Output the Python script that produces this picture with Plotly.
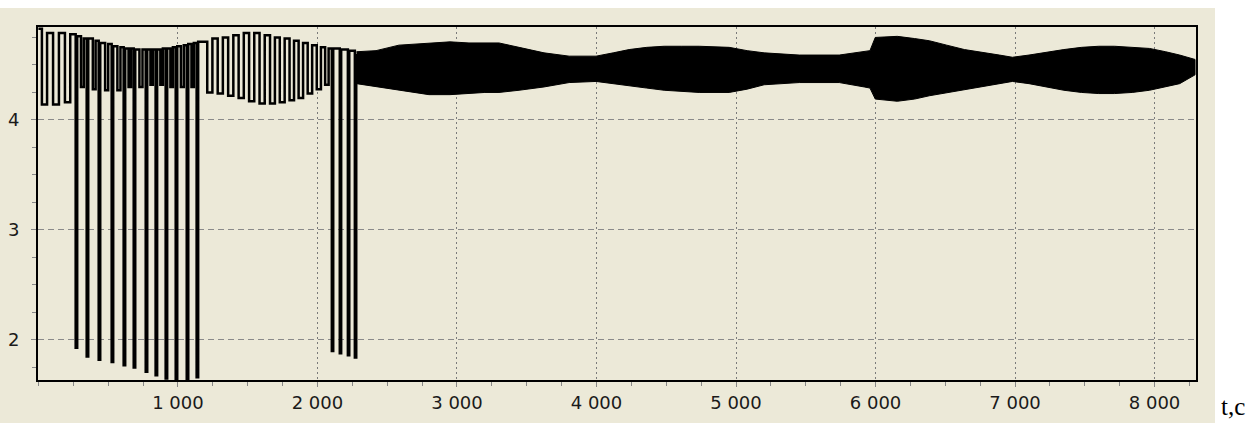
import plotly.graph_objects as go

# ---- data ----
# early oscillation, sampled-and-held values (t in seconds, value)
early_t = [0, 25, 62, 105, 147, 190, 228,
           267, 278, 305, 325, 346, 357, 390, 410, 432, 443, 478, 500,
           525, 536, 566, 588, 611, 622, 646, 664, 683, 694, 724, 746,
           769, 780, 803, 820, 840, 851, 874, 892, 912, 923, 946, 964,
           984, 995, 1021, 1042, 1063, 1074, 1097, 1114, 1134, 1145,
           1210, 1247, 1285, 1322, 1360, 1397, 1435, 1472, 1510, 1547, 1585, 1622,
           1660, 1695, 1730, 1765, 1800, 1832, 1865, 1897, 1930, 1962, 1995, 2025,
           2055, 2080, 2103, 2113, 2160, 2170, 2218, 2228, 2268, 2278]
early_v = [4.83, 4.14, 4.79, 4.14, 4.79, 4.16, 4.78,
           1.93, 4.76, 4.30, 4.74, 1.85, 4.74, 4.28, 4.72, 1.82, 4.70, 4.27, 4.69,
           1.80, 4.67, 4.27, 4.66, 1.77, 4.65, 4.30, 4.65, 1.75, 4.64, 4.30, 4.64,
           1.71, 4.64, 4.32, 4.64, 1.68, 4.64, 4.32, 4.65, 1.65, 4.65, 4.30, 4.66,
           1.62, 4.67, 4.30, 4.68, 1.62, 4.69, 4.30, 4.70, 1.66, 4.71,
           4.25, 4.74, 4.24, 4.75, 4.22, 4.77, 4.20, 4.79, 4.17, 4.79, 4.15, 4.77,
           4.15, 4.75, 4.16, 4.74, 4.18, 4.72, 4.20, 4.70, 4.24, 4.68, 4.28, 4.66,
           4.32, 4.65, 1.90, 4.65, 1.88, 4.64, 1.86, 4.63, 1.84, 4.60]

# dense oscillation: upper and lower envelope
band_t = [2280, 2420, 2584, 2700, 2799, 2950, 3086, 3200, 3301, 3445, 3624, 3804, 3997,
          4120, 4234, 4360, 4485, 4610, 4736, 4951, 5080, 5202, 5453, 5740, 5919, 5960,
          5998, 6156, 6280, 6386, 6510, 6637, 6888, 6981, 7100, 7232, 7350, 7476, 7600,
          7713, 7840, 7964, 8080, 8180, 8290]
band_hi = [4.62, 4.63, 4.68, 4.69, 4.70, 4.71, 4.70, 4.70, 4.70, 4.66, 4.61, 4.58, 4.58,
           4.61, 4.64, 4.66, 4.67, 4.67, 4.67, 4.66, 4.63, 4.61, 4.59, 4.59, 4.62, 4.63,
           4.75, 4.76, 4.74, 4.72, 4.68, 4.64, 4.59, 4.57, 4.59, 4.62, 4.64, 4.66, 4.67,
           4.67, 4.66, 4.65, 4.62, 4.59, 4.55]
band_lo = [4.33, 4.30, 4.27, 4.25, 4.23, 4.23, 4.24, 4.25, 4.25, 4.27, 4.30, 4.34, 4.35,
           4.33, 4.31, 4.29, 4.27, 4.26, 4.25, 4.25, 4.28, 4.32, 4.34, 4.34, 4.30, 4.29,
           4.19, 4.17, 4.19, 4.22, 4.25, 4.28, 4.33, 4.35, 4.33, 4.30, 4.27, 4.25, 4.24,
           4.24, 4.25, 4.27, 4.30, 4.33, 4.41]

x_tick_vals = [1000, 2000, 3000, 4000, 5000, 6000, 7000, 8000]
x_tick_text = ["1 000", "2 000", "3 000", "4 000", "5 000", "6 000", "7 000", "8 000"]
y_tick_vals = [2, 3, 4]
y_tick_text = ["2", "3", "4"]
x_unit_label = "t,c"

# ---- build figure ----
band_x = band_t + band_t[::-1]
band_y = band_hi + band_lo[::-1]

BEIGE = "#ECE9D8"
W, H = 1255, 423
L, R, T, B = 38, 59, 27, 43
pw, ph = W - L - R, H - T - B

def px(xp):
    return (xp - L) / pw

def py(yp):
    return (H - B - yp) / ph

fig = go.Figure()
fig.add_trace(go.Scatter(x=band_x, y=band_y, mode="lines", fill="toself",
                         fillcolor="black", line=dict(color="black", width=1),
                         hoverinfo="skip", showlegend=False))
fig.add_trace(go.Scatter(x=early_t, y=early_v, mode="lines",
                         line=dict(color="black", width=2.5, shape="hv"),
                         hoverinfo="skip", showlegend=False))

tick_font = dict(family="DejaVu Sans", size=18, color="#1a1a1a")

fig.update_layout(
    width=W, height=H,
    margin=dict(l=L, r=R, t=T, b=B, pad=0, autoexpand=False),
    paper_bgcolor="white",
    plot_bgcolor=BEIGE,
    showlegend=False,
    shapes=[dict(type="rect", xref="paper", yref="paper",
                 x0=px(0), x1=px(1215), y0=py(423), y1=py(8),
                 fillcolor=BEIGE, line=dict(width=0), layer="below")],
    annotations=[dict(text=x_unit_label, xref="paper", yref="paper",
                      x=px(1233), y=py(406), xanchor="center", yanchor="middle",
                      showarrow=False,
                      font=dict(family="Liberation Serif", size=25, color="black"))],
    xaxis=dict(range=[-3, 8297], tickvals=x_tick_vals, ticktext=x_tick_text,
               automargin=False,
               showline=True, mirror=True, linecolor="black", linewidth=2,
               showgrid=True, gridcolor="#7a7a7a", gridwidth=1, griddash="2px,3px",
               zeroline=False, ticks="outside", ticklen=5, tickcolor="#888888",
               tickfont=tick_font, ticklabelstandoff=0,
               minor=dict(dtick=250, tick0=0, ticks="outside", ticklen=4,
                          tickcolor="#888888", showgrid=False)),
    yaxis=dict(range=[1.636, 4.845], tickvals=y_tick_vals, ticktext=y_tick_text,
               automargin=False,
               showline=True, mirror=True, linecolor="black", linewidth=2,
               showgrid=True, gridcolor="#8a8a8a", gridwidth=1, griddash="6px,4px",
               zeroline=False, ticks="outside", ticklen=5, tickcolor="#888888",
               tickfont=tick_font, ticklabelstandoff=8,
               minor=dict(dtick=0.25, tick0=0, ticks="outside", ticklen=4,
                          tickcolor="#888888", showgrid=False)),
)

fig.write_html("out.html")
